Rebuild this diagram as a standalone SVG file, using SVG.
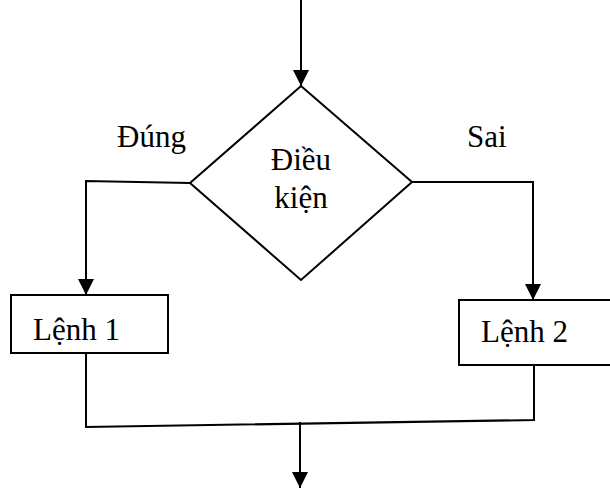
<svg xmlns="http://www.w3.org/2000/svg" width="610" height="488" viewBox="0 0 610 488">
  <style>
    .ln { fill: none; stroke: #000; stroke-width: 2; }
    .shape { fill: #fff; stroke: #000; stroke-width: 2; }
    .tx { font-family: "Liberation Serif", "Times New Roman", serif; font-size: 31px; fill: #000; }
  </style>
  <defs>
    <marker id="arrow" markerUnits="userSpaceOnUse" markerWidth="16" markerHeight="18" refX="16" refY="8" orient="auto">
      <path d="M0,0 L16,8 L0,16 Z" fill="#000"/>
    </marker>
  </defs>
  <rect width="610" height="488" fill="#fff"/>

  <g id="connectors">
    <!-- entry into the decision -->
    <line class="ln" x1="301" y1="0" x2="301" y2="86" marker-end="url(#arrow)"/>
    <!-- true branch -->
    <polyline class="ln" points="190,183 86,181 86,295" marker-end="url(#arrow)"/>
    <!-- false branch -->
    <polyline class="ln" points="412,182 533,182 533,300" marker-end="url(#arrow)"/>
    <!-- merge -->
    <polyline class="ln" points="86,353 86,427 534,420 534,365"/>
    <line class="ln" x1="300" y1="422" x2="300" y2="488" marker-end="url(#arrow)"/>
  </g>

  <g id="condition">
    <polygon class="shape" points="301,86 412,182 301,280 190,183"/>
    <text class="tx" x="301" y="170" text-anchor="middle">Điều</text>
    <text class="tx" x="301" y="208" text-anchor="middle">kiện</text>
  </g>

  <g id="label-true">
    <text class="tx" x="117" y="147">Đúng</text>
  </g>
  <g id="label-false">
    <text class="tx" x="467" y="147">Sai</text>
  </g>

  <g id="statement1">
    <rect class="shape" x="11" y="295" width="157" height="58"/>
    <text class="tx" x="33" y="340">Lệnh 1</text>
  </g>

  <g id="statement2">
    <rect class="shape" x="459" y="300" width="152" height="65"/>
    <text class="tx" x="481" y="342">Lệnh 2</text>
  </g>
</svg>
